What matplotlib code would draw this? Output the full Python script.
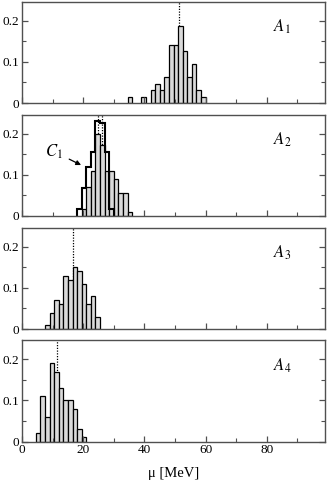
import matplotlib
matplotlib.use("Agg")
import matplotlib.pyplot as plt
import numpy as np

plt.rcParams['font.family'] = ['Liberation Serif', 'DejaVu Serif']
plt.rcParams['mathtext.fontset'] = 'stix'

BIN = 1.5
# bin left edges (MeV) and normalized counts
a1_left = [34.5, 39.0, 42.0, 43.5, 45.0, 46.5, 48.0, 49.5, 51.0, 52.5, 54.0, 55.5, 57.0, 58.5]
a1_vals = [0.0156, 0.0156, 0.031, 0.047, 0.031, 0.0625, 0.141, 0.141, 0.188, 0.126, 0.0625, 0.094, 0.031, 0.0156]
a1_mean = [51.2]

a2_left = [19.5, 21.0, 22.5, 24.0, 25.5, 27.0, 28.5, 30.0, 31.5, 33.0, 34.5]
a2_vals = [0.017, 0.07, 0.11, 0.20, 0.173, 0.11, 0.11, 0.09, 0.055, 0.055, 0.01]
a2_mean = [24.7, 26.3]
c1_edges = [18.0, 19.5, 21.0, 22.5, 24.0, 25.5, 27.0, 28.5, 30.0]
c1_vals = [0.017, 0.068, 0.12, 0.155, 0.232, 0.226, 0.156, 0.016]

a3_left = [7.5, 9.0, 10.5, 12.0, 13.5, 15.0, 16.5, 18.0, 19.5, 21.0, 22.5, 24.0]
a3_vals = [0.01, 0.04, 0.07, 0.06, 0.13, 0.12, 0.15, 0.14, 0.11, 0.06, 0.08, 0.03]
a3_mean = [16.8]

a4_left = [4.5, 6.0, 7.5, 9.0, 10.5, 12.0, 13.5, 15.0, 16.5, 18.0, 19.5]
a4_vals = [0.02, 0.11, 0.06, 0.19, 0.17, 0.13, 0.10, 0.10, 0.08, 0.03, 0.01]
a4_mean = [11.5]

panel_labels = [r'$A_1$', r'$A_2$', r'$A_3$', r'$A_4$']
x_major = [0, 20, 40, 60, 80]
x_minor = [10, 30, 50, 70, 90]
y_major = [0, 0.1, 0.2]
y_major_labels = ['0', '0.1', '0.2']
y_minor = [0.05, 0.15]

W, H = 327, 480
fig = plt.figure(figsize=(W / 100, H / 100), dpi=100)

panels = [(a1_left, a1_vals, a1_mean), (a2_left, a2_vals, a2_mean),
          (a3_left, a3_vals, a3_mean), (a4_left, a4_vals, a4_mean)]
bottoms_px = [103, 216, 329, 441.5]
ph = 101.5
left_px, right_px = 22, 325
frame_col = '#505050'

axes = []
for i, ((lefts, vals, means), bpx) in enumerate(zip(panels, bottoms_px)):
    ax = fig.add_axes([left_px / W, 1 - bpx / H, (right_px - left_px) / W, ph / H])
    axes.append(ax)
    for m in means:
        ax.axvline(m, ls=(0, (1, 1.2)), color='black', lw=0.9, zorder=0.5)
    ax.bar(lefts, vals, width=BIN, align='edge', color='#dadada',
           edgecolor='black', linewidth=0.9, zorder=1)
    ax.set_xlim(0, 99)
    ax.set_ylim(0, 0.247)
    ax.set_xticks(x_major)
    ax.set_xticks(x_minor, minor=True)
    ax.set_yticks(y_major)
    ax.set_yticklabels(y_major_labels)
    ax.set_yticks(y_minor, minor=True)
    ax.tick_params(axis='both', which='both', direction='in', color=frame_col,
                   labelsize=9.5, pad=2)
    ax.tick_params(axis='y', which='both', left=True, right=True)
    ax.tick_params(axis='x', which='both', bottom=True, top=False)
    ax.tick_params(which='major', length=4, width=0.9)
    ax.tick_params(which='minor', length=3, width=0.8)
    for s in ax.spines.values():
        s.set_color(frame_col)
        s.set_linewidth(1.0)
    if i < 3:
        ax.set_xticklabels([])
    ax.text(0.83, 0.75, panel_labels[i], transform=ax.transAxes,
            fontsize=12, ha='left', va='center')

ax2 = axes[1]
ax2.stairs(c1_vals, c1_edges, fill=False, color='black', linewidth=1.5, zorder=2)
ax2.annotate(r'$C_1$', xy=(19.3, 0.124), xytext=(7.5, 0.157),
             fontsize=12, ha='left', va='center',
             arrowprops=dict(arrowstyle='-|>', color='black', lw=0.9,
                             mutation_scale=7, shrinkA=3, shrinkB=0))

axes[3].set_xlabel('μ [MeV]', fontsize=10.5, labelpad=8)

fig.savefig('out.png', dpi=100)
